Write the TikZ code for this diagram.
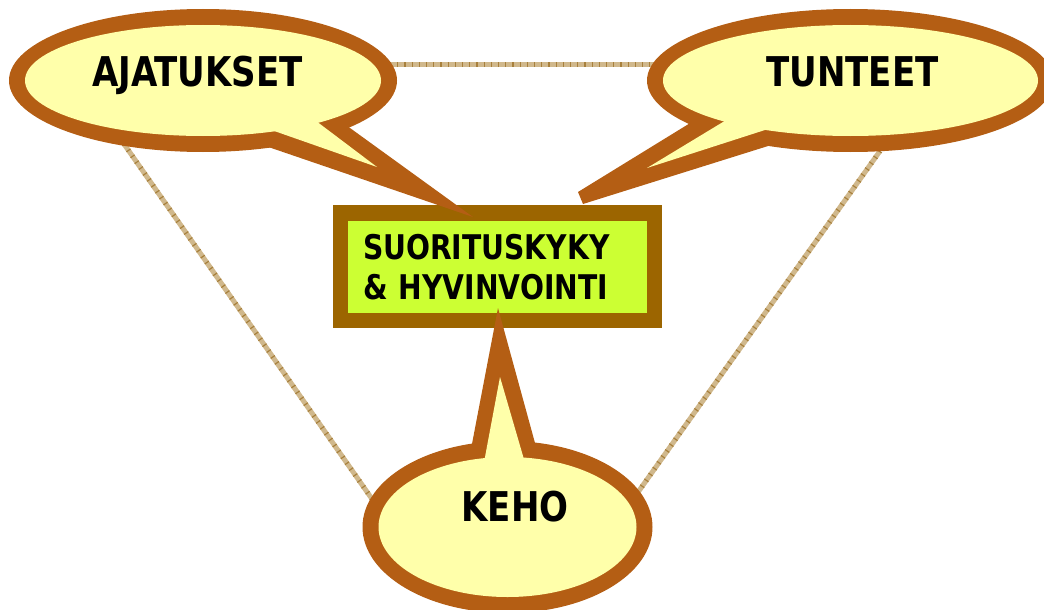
\documentclass[tikz,border=0pt]{standalone}
\usepackage{fontspec}
\setmainfont{DejaVu Sans}[FakeStretch=0.83]
\definecolor{bubbrown}{RGB}{180,94,20}
\definecolor{bubyellow}{RGB}{255,255,170}
\definecolor{boxbrown}{RGB}{156,101,0}
\definecolor{boxlime}{RGB}{204,255,51}
\definecolor{linktan}{RGB}{208,184,140}
\definecolor{linkdark}{RGB}{168,128,60}
\tikzset{
  bubout/.style={fill=bubbrown},
  bubin/.style={fill=bubyellow},
  bubtext/.style={font=\fontsize{41}{48}\selectfont\bfseries, anchor=base, inner sep=0pt},
  link/.style={line width=5pt, draw=linktan},
  linkdots/.style={line width=5pt, draw=linkdark, dash pattern=on 1.2pt off 6pt},
  centerbox/.style={draw=boxbrown, fill=boxlime, line width=15.5pt,
    minimum width=314pt, minimum height=107.5pt, text width=269pt,
    inner xsep=22.5pt, inner ysep=0pt, align=left,
    font=\fontsize{34}{40}\selectfont\bfseries}
}
\begin{document}
\begin{tikzpicture}[x=1pt,y=-1pt]
\useasboundingbox (0,0) rectangle (1044,610);
\clip (0,0) rectangle (1044,610);
% connector end points
\coordinate (tl1) at (390,65);
\coordinate (tl2) at (654,65);
\coordinate (ld1) at (124,144);
\coordinate (ld2) at (372,499);
\coordinate (rd1) at (880,151);
\coordinate (rd2) at (636,495);
% connectors
\foreach \a/\b in {tl1/tl2, ld1/ld2, rd1/rd2}{
  \draw[link] (\a) -- (\b);
  \draw[linkdots] (\a) -- (\b);
}
% central box
\node[centerbox] (box) at (497.5,266.75) {SUORITUSKYKY\\\& HYVINVOINTI};
% AJATUKSET bubble
\fill[bubout] (203,80.5) ellipse [x radius=194pt, y radius=71.5pt];
\fill[bubout] (473,217) -- (240,137.3) -- (320,106.3) -- cycle;
\fill[bubin] (203,80.5) ellipse [x radius=178pt, y radius=55.5pt];
\fill[bubin] (377,167) -- (250,122.5) -- (300,108.9) -- cycle;
% TUNTEET bubble
\fill[bubout] (850.5,80.5) ellipse [x radius=203.5pt, y radius=71.5pt];
\fill[bubout] (578,192) -- (583,204) -- (800,136) -- (720,104.7) -- cycle;
\fill[bubin] (850.5,80.5) ellipse [x radius=187.5pt, y radius=55.5pt];
\fill[bubin] (647,168) -- (800,118.7) -- (760,99.6) -- cycle;
% KEHO bubble
\fill[bubout] (507.5,527) ellipse [x radius=145pt, y radius=86pt];
\fill[bubout] (498,308) -- (467,470) -- (542.4,470) -- cycle;
\fill[bubin] (507.5,527) ellipse [x radius=129pt, y radius=70pt];
\fill[bubin] (500,377) -- (480.7,480) -- (530,480) -- cycle;
% texts
\node[bubtext] (ajat) at (197.5,86.7) {AJATUKSET};
\node[bubtext] (tunt) at (852.5,86.7) {TUNTEET};
\node[bubtext] (keho) at (515,521.7) {KEHO};
\end{tikzpicture}
\end{document}
